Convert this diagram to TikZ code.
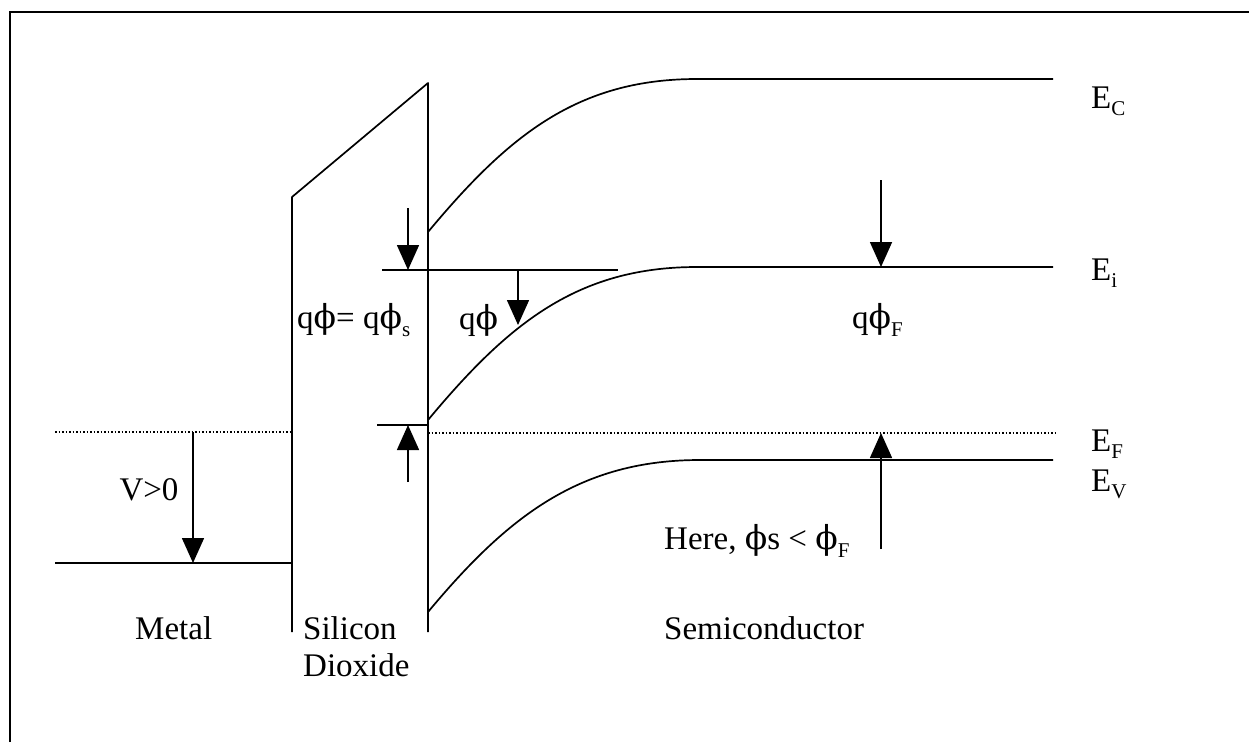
\documentclass[tikz,border=0pt]{standalone}
\usepackage{fontspec}
\setmainfont{Liberation Serif}
\newfontfamily\phifont{DejaVu Serif}
\usetikzlibrary{arrows.meta,calc}
\newcommand{\ph}{{\phifont ϕ}}
\newcommand{\sbs}[1]{\raisebox{-0.22em}{\fontsize{21}{21}\selectfont #1}}
\tikzset{
  band/.style={line width=1.7pt},
  lvl/.style={line width=1.5pt, dotted},
  frame/.style={line width=2.4pt},
  arr/.style={line width=1.6pt, -{Triangle[width=22pt,length=25pt]}},
  lbl/.style={inner sep=0pt, font=\fontsize{33}{38}\selectfont},
}
\begin{document}
\begin{tikzpicture}[x=1pt,y=-1pt]
\useasboundingbox (0,0) rectangle (1249,742);
% frame
\coordinate (fbl) at (10,742);
\coordinate (ftl) at (10,12);
\coordinate (ftr) at (1249,12);
\draw[frame] (fbl) -- (ftl) -- (ftr);

% metal
\coordinate (mf0) at (55,432); \coordinate (mf1) at (290,432);
\coordinate (mm0) at (55,563); \coordinate (mm1) at (292,563);
\draw[lvl] (mf0) -- (mf1);
\draw[band] (mm0) -- (mm1);
\coordinate (va) at (193,432); \coordinate (vb) at (193,563);
\draw[arr] (va) -- (vb);
\node[lbl] (vlab) at (149,490) {V>0};

% oxide
\coordinate (ox1) at (292,632); \coordinate (ox2) at (292,197);
\coordinate (ox3) at (428,83); \coordinate (ox4) at (428,632);
\draw[band, line join=round] (ox1) -- (ox2) -- (ox3) -- (ox4);

% semiconductor bands
\coordinate (ec0) at (428,232); \coordinate (ec1) at (697,79); \coordinate (ec2) at (1053,79);
\coordinate (ei0) at (428,420); \coordinate (ei1) at (697,267); \coordinate (ei2) at (1053,267);
\coordinate (ev0) at (428,612); \coordinate (ev1) at (700,460); \coordinate (ev2) at (1053,460);
\draw[band] (ec0) .. controls ($(ec0)+(80,-96)$) and ($(ec1)+(-120,0)$) .. (ec1) -- (ec2);
\draw[band] (ei0) .. controls ($(ei0)+(80,-96)$) and ($(ei1)+(-120,0)$) .. (ei1) -- (ei2);
\draw[band] (ev0) .. controls ($(ev0)+(80,-96)$) and ($(ev1)+(-120,0)$) .. (ev1) -- (ev2);
\coordinate (ef0) at (428,433); \coordinate (ef1) at (1055,433);
\draw[lvl] (ef0) -- (ef1);

% surface reference lines
\coordinate (sl0) at (382,270); \coordinate (sl1) at (618,270);
\draw[band] (sl0) -- (sl1);
\coordinate (sf0) at (377,425); \coordinate (sf1) at (428,425);
\draw[band] (sf0) -- (sf1);

% arrows
\coordinate (a1s) at (408,208); \coordinate (a1e) at (408,270);
\draw[arr] (a1s) -- (a1e);
\coordinate (a2s) at (518,270); \coordinate (a2e) at (518,325);
\draw[arr] (a2s) -- (a2e);
\coordinate (a3s) at (408,482); \coordinate (a3e) at (408,425);
\draw[arr] (a3s) -- (a3e);
\coordinate (a4s) at (881,180); \coordinate (a4e) at (881,267);
\draw[arr] (a4s) -- (a4e);
\coordinate (a5s) at (881,549); \coordinate (a5e) at (881,433);
\draw[arr] (a5s) -- (a5e);

% labels
\node[lbl, anchor=west] (lec) at (1091,101) {E\sbs{C}};
\node[lbl, anchor=west] (lei) at (1091,273) {E\sbs{i}};
\node[lbl, anchor=west] (lef) at (1091,444) {E\sbs{F}};
\node[lbl, anchor=west] (lev) at (1091,484) {E\sbs{V}};
\node[lbl, anchor=west] (lqs) at (297,320) {q\ph{}= q\ph\sbs{s}};
\node[lbl, anchor=west] (lq) at (459,320) {q\ph};
\node[lbl, anchor=west] (lqf) at (852,320) {q\ph\sbs{F}};
\node[lbl, anchor=west] (lhere) at (664,541) {Here, \ph{}s < \ph\sbs{F}};
\node[lbl, anchor=west] (lmetal) at (135,628) {Metal};
\node[lbl, anchor=west] (lsil) at (303,628) {Silicon};
\node[lbl, anchor=west] (ldiox) at (303,665) {Dioxide};
\node[lbl, anchor=west] (lsemi) at (664,628) {Semiconductor};
\end{tikzpicture}
\end{document}
